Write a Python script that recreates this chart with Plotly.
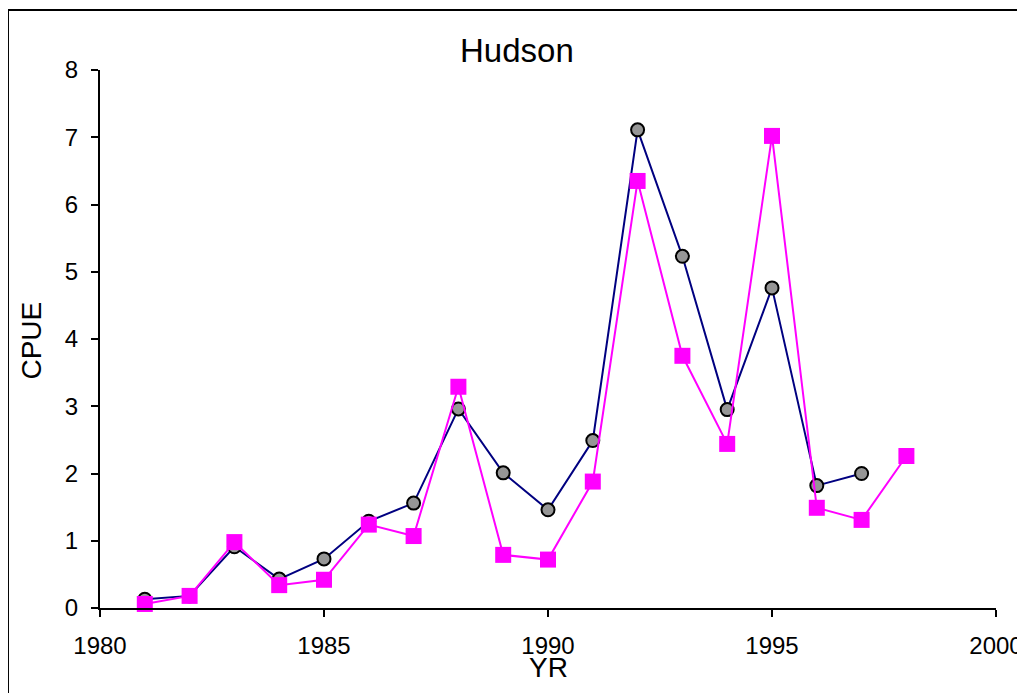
import plotly.graph_objects as go

years_a = [1981, 1982, 1983, 1984, 1985, 1986, 1987, 1988, 1989, 1990, 1991, 1992, 1993, 1994, 1995, 1996, 1997]
cpue_a = [0.13, 0.18, 0.91, 0.43, 0.73, 1.29, 1.56, 2.96, 2.01, 1.46, 2.49, 7.11, 5.23, 2.95, 4.76, 1.82, 2.00]

years_b = [1981, 1982, 1983, 1984, 1985, 1986, 1987, 1988, 1989, 1990, 1991, 1992, 1993, 1994, 1995, 1996, 1997, 1998]
cpue_b = [0.06, 0.18, 0.98, 0.34, 0.42, 1.24, 1.07, 3.29, 0.79, 0.72, 1.88, 6.35, 3.75, 2.44, 7.02, 1.49, 1.31, 2.26]

x_ticks = [1980, 1985, 1990, 1995, 2000]
y_ticks = [0, 1, 2, 3, 4, 5, 6, 7, 8]

FONT = "Liberation Sans, Arial, sans-serif"

fig = go.Figure()
fig.add_trace(go.Scatter(
    x=years_a, y=cpue_a, mode="lines+markers",
    line=dict(color="#000080", width=2),
    marker=dict(symbol="circle", size=13, color="#969696", line=dict(color="black", width=2)),
    showlegend=False, cliponaxis=False))
fig.add_trace(go.Scatter(
    x=years_b, y=cpue_b, mode="lines+markers",
    line=dict(color="#FF00FF", width=2),
    marker=dict(symbol="square", size=16, color="#FF00FF", line=dict(width=0)),
    showlegend=False, cliponaxis=False))

# page body has an 8px margin, so offsets are compensated here
fig.update_layout(
    template="none",
    width=1017, height=685,
    margin=dict(l=92, r=29, t=62, b=85),
    paper_bgcolor="white", plot_bgcolor="white",
    font=dict(family=FONT, size=24, color="black"),
    xaxis=dict(range=[1980, 2000], tickvals=x_ticks, ticktext=[str(v) for v in x_ticks],
               showline=True, linecolor="black", linewidth=2, ticks="outside",
               ticklen=7, tickwidth=2, tickcolor="black", showgrid=False, zeroline=False,
               tickfont=dict(size=24), ticklabelstandoff=8, automargin=False),
    yaxis=dict(range=[0, 8], tickvals=y_ticks,
               showline=True, linecolor="black", linewidth=2, ticks="outside",
               ticklen=7, tickwidth=2, tickcolor="black", showgrid=False, zeroline=False,
               tickfont=dict(size=24), ticklabelstandoff=8, automargin=False),
    annotations=[
        dict(text="Hudson", xref="paper", yref="paper", x=0.4654, y=1.036,
             xanchor="center", yanchor="middle", showarrow=False, font=dict(size=33)),
        dict(text="YR", xref="paper", yref="paper", x=0.5, y=-0.111,
             xanchor="center", yanchor="middle", showarrow=False, font=dict(size=28)),
        dict(text="CPUE", xref="paper", yref="paper", x=-0.0765, y=0.498, textangle=-90,
             xanchor="center", yanchor="middle", showarrow=False, font=dict(size=28)),
    ],
    shapes=[dict(type="rect", xref="paper", yref="paper",
                 x0=-0.1027, y0=-0.3, x1=1.2, y1=1.1116,
                 line=dict(color="black", width=2), fillcolor="rgba(0,0,0,0)", layer="below")],
)

fig.write_html("out.html")
